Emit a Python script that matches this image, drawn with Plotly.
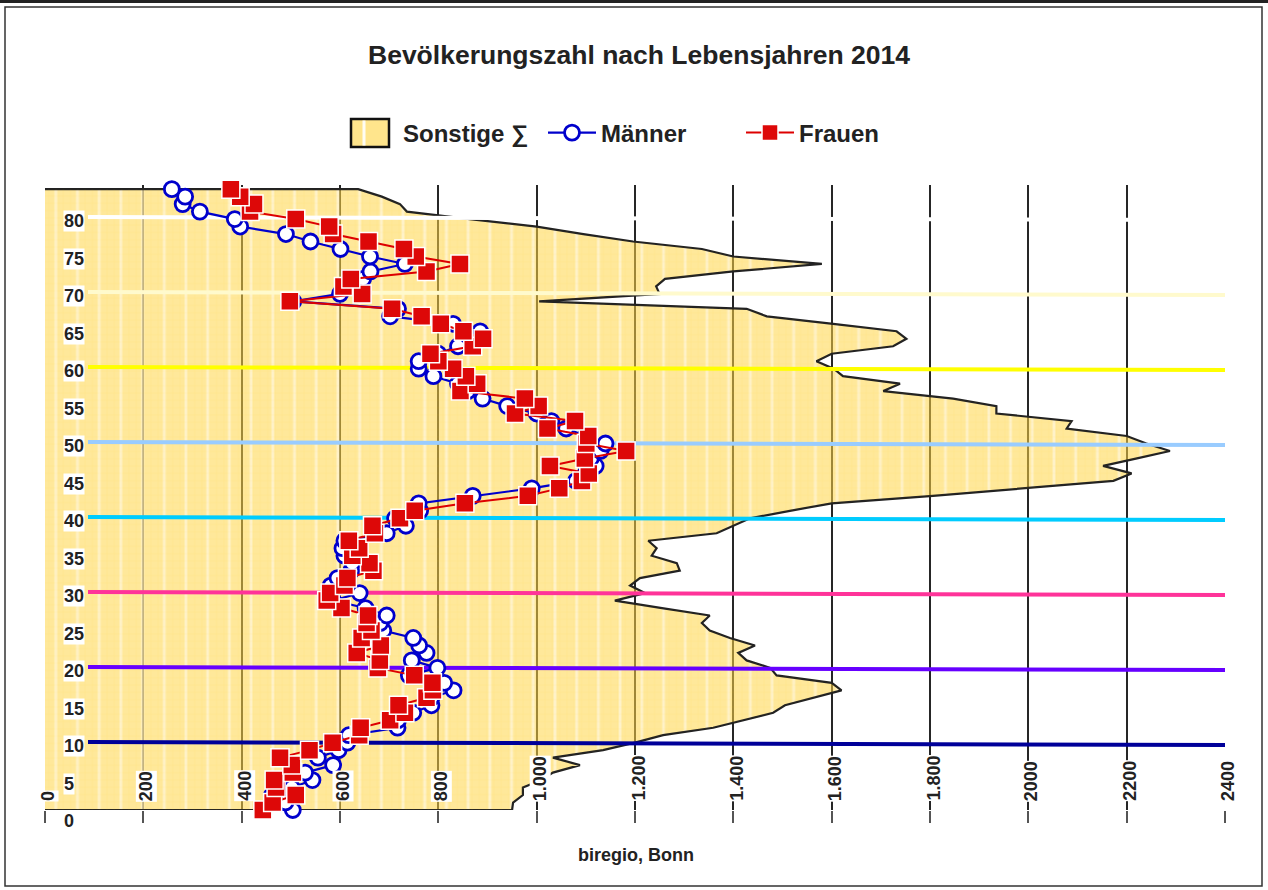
import plotly.graph_objects as go

# ---------------- data ----------------
ages = list(range(84))

maenner = [504, 489, 462, 502, 544, 529, 586, 555, 597, 615,
           618, 717, 718, 749, 786, 786, 831, 812, 740, 798,
           746, 776, 761, 749, 688, 682, 695, 652, 586, 640,
           581, 595, 623, 625, 609, 605, 609, 695, 734, 712,
           763, 760, 870, 990, 1080, 1100, 1120, 1110, 1130, 1140,
           1100, 1060, 1030, 1000, 940, 890, 860, 840, 790, 760,
           760, 800, 840, 880, 885, 830, 702, 718, 505, 600,
           610, 647, 662, 732, 661, 601, 540, 490, 397, 386,
           315, 280, 285, 258]

frauen = [443, 463, 510, 470, 466, 504, 502, 478, 538, 585,
          639, 642, 702, 732, 719, 776, 789, 788, 751, 677,
          681, 634, 683, 644, 664, 654, 657, 603, 573, 580,
          609, 615, 668, 660, 625, 639, 618, 671, 666, 722,
          752, 854, 982, 1046, 1092, 1106, 1027, 1098, 1182, 1101,
          1105, 1022, 1078, 956, 1004, 976, 845, 879, 856, 830,
          800, 784, 870, 891, 851, 805, 766, 706, 498, 645,
          607, 622, 776, 844, 754, 730, 658, 586, 578, 510,
          417, 425, 397, 378]

sonstige = [950, 952, 972, 972, 1010, 1033, 1088, 1033, 1135, 1200,
            1257, 1359, 1420, 1481, 1505, 1562, 1620, 1600, 1488, 1475,
            1427, 1410, 1444, 1393, 1352, 1336, 1352, 1255, 1159, 1220,
            1190, 1210, 1291, 1285, 1234, 1244, 1227, 1366, 1400, 1434,
            1515, 1600, 1806, 1997, 2173, 2210, 2152, 2221, 2288, 2240,
            2200, 2078, 2088, 1935, 1935, 1847, 1705, 1739, 1623, 1604,
            1569, 1600, 1725, 1752, 1732, 1603, 1468, 1427, 1005, 1250,
            1243, 1261, 1400, 1580, 1400, 1336, 1196, 1095, 1000, 864,
            736, 722, 685, 637]

x_tick_vals = [0, 200, 400, 600, 800, 1000, 1200, 1400, 1600, 1800, 2000, 2200, 2400]
x_tick_text = ["0", "200", "400", "600", "800", "1.000", "1.200", "1.400",
               "1.600", "1.800", "2000", "2200", "2400"]
y_label_vals = [0, 5, 10, 15, 20, 25, 30, 35, 40, 45, 50, 55, 60, 65, 70, 75, 80]
band_levels = [10, 20, 30, 40, 50, 60, 70, 80]
band_colors = ["#000099", "#6600ff", "#ff3399", "#00ccff",
               "#99ccff", "#ffff00", "#fffacd", "#ffffff"]

# ---------------- geometry ----------------
W, H = 1268, 890
ML, MR, MT, MB = 45, 43, 185, 80
PLOT_W = W - ML - MR
PLOT_H = H - MT - MB
PX_PER_AGE = 7.48
Y_TOP = PLOT_H / PX_PER_AGE
X_MAX = 2400
PX_PER_X = PLOT_W / X_MAX
LABEL_ZERO_PX = 817.0     # pixel row of label value 0
LABEL_PX_PER_UNIT = 7.5


def label_px(v):
    return LABEL_ZERO_PX - LABEL_PX_PER_UNIT * v


def label_to_age(v):
    return (MT + PLOT_H - label_px(v)) / PX_PER_AGE


def px_x(p):
    return (p - ML) / PLOT_W


def px_y(p):
    return (MT + PLOT_H - p) / PLOT_H


FONT = "Liberation Sans, Arial, sans-serif"
TXT = "#222222"
AREA_BG = "rgba(255,212,70,0.55)"

fig = go.Figure()

# total area
fig.add_trace(go.Scatter(
    x=[0] + sonstige + [0],
    y=[ages[0]] + ages + [ages[-1]],
    mode="lines",
    fill="toself",
    fillcolor=AREA_BG,
    fillpattern=dict(shape="|", fgcolor="rgba(255,255,255,0.95)",
                     bgcolor=AREA_BG, size=21.7, solidity=0.13),
    line=dict(color="#222222", width=2.2),
    name="Sonstige \u2211",
    showlegend=False,
    hoverinfo="skip",
))
# legend entry for the area (swatch drawn as a layout shape)
fig.add_trace(go.Scatter(
    x=[None], y=[None], mode="markers", name="Sonstige \u2211",
    marker=dict(symbol="square", size=1, color="rgba(0,0,0,0)",
                line=dict(width=0)),
))
# faint fine grid texture inside the area
fig.add_trace(go.Scatter(
    x=[0] + sonstige + [0],
    y=[ages[0]] + ages + [ages[-1]],
    mode="none",
    fill="toself",
    fillcolor="rgba(0,0,0,0)",
    fillpattern=dict(shape="+", fgcolor="rgba(255,190,0,0.25)",
                     bgcolor="rgba(0,0,0,0)", size=7.3, solidity=0.12),
    showlegend=False,
    hoverinfo="skip",
))

# coloured age bands
x_band_start = (88 - ML) / PX_PER_X
for lvl, col in zip(band_levels, band_colors):
    ya = label_to_age(lvl)
    fig.add_trace(go.Scatter(
        x=[x_band_start, X_MAX], y=[ya, ya - 3.0 / PX_PER_AGE],
        mode="lines", line=dict(color=col, width=4),
        showlegend=False, hoverinfo="skip",
    ))

fig.add_trace(go.Scatter(
    x=maenner, y=ages, mode="lines+markers", name="M\u00e4nner",
    line=dict(color="#0000cc", width=2.2),
    marker=dict(symbol="circle", size=15, color="white",
                line=dict(color="#0000cc", width=2.8)),
    cliponaxis=False,
))
fig.add_trace(go.Scatter(
    x=frauen, y=ages, mode="lines+markers", name="Frauen",
    line=dict(color="#dd0000", width=2),
    marker=dict(symbol="square", size=18, color="#dd0808",
                line=dict(color="white", width=1.5)),
    cliponaxis=False,
))

annotations = []
for v in y_label_vals:
    annotations.append(dict(
        x=px_x(63), xref="paper", xanchor="left",
        y=px_y(label_px(v) + 4), yref="paper", yanchor="middle",
        text=str(v), showarrow=False, bgcolor="white", borderpad=0,
        font=dict(family=FONT, size=18, color=TXT, weight="bold"),
    ))
for v, t in zip(x_tick_vals, x_tick_text):
    annotations.append(dict(
        x=v, xref="x", xanchor="center", xshift=3,
        y=0, yref="paper", yanchor="bottom", yshift=8,
        text=t, textangle=-90, showarrow=False, bgcolor="white", borderpad=0,
        font=dict(family=FONT, size=18, color=TXT, weight="bold"),
    ))
annotations.append(dict(
    x=px_x(636), xref="paper", y=px_y(855), yref="paper", yanchor="middle",
    text="biregio, Bonn", showarrow=False,
    font=dict(family=FONT, size=18, color=TXT, weight="bold"),
))

shapes = [
    dict(type="rect", xref="paper", yref="paper",
         x0=px_x(5), x1=px_x(1262), y0=px_y(886), y1=px_y(7),
         line=dict(color="#333333", width=1.5), layer="below"),
    dict(type="line", xref="paper", yref="paper",
         x0=px_x(0), x1=px_x(W), y0=px_y(1.5), y1=px_y(1.5),
         line=dict(color="#222222", width=3), layer="below"),
    # legend swatch of the area series
    dict(type="rect", xref="paper", yref="paper",
         x0=px_x(351), x1=px_x(389), y0=px_y(147), y1=px_y(119),
         fillcolor="#ffe58c", line=dict(color="#111111", width=2.5),
         layer="above"),
    dict(type="line", xref="paper", yref="paper",
         x0=px_x(364), x1=px_x(364), y0=px_y(145.5), y1=px_y(120.5),
         line=dict(color="rgba(255,255,255,0.9)", width=3), layer="above"),
]

fig.update_layout(
    width=W, height=H,
    margin=dict(l=ML, r=MR, t=MT, b=MB),
    paper_bgcolor="white", plot_bgcolor="white",
    title=dict(text="Bev\u00f6lkerungszahl nach Lebensjahren 2014",
               x=639 / W, xanchor="center", y=1 - 55 / H, yanchor="middle",
               font=dict(family=FONT, size=26.5, color=TXT, weight="bold")),
    showlegend=True,
    legend=dict(orientation="h", x=px_x(345), xanchor="left",
                y=px_y(133), yanchor="middle",
                font=dict(family=FONT, size=24, color=TXT, weight="bold"),
                bgcolor="rgba(0,0,0,0)", itemwidth=48,
                entrywidth=135, entrywidthmode="pixels",
                traceorder="normal"),
    xaxis=dict(range=[0, X_MAX], tickvals=x_tick_vals, showticklabels=False,
               ticks="outside", ticklen=12, tickwidth=1.5, tickcolor="#555555",
               showgrid=True, gridcolor="#262626", gridwidth=1.5,
               zeroline=False, showline=False, fixedrange=True),
    yaxis=dict(range=[0, Y_TOP], showgrid=False, showticklabels=False,
               zeroline=False, showline=False, ticks="", fixedrange=True),
    annotations=annotations,
    shapes=shapes,
)

fig.write_html("out.html",
               config={"displayModeBar": False},
               post_script="document.body.style.margin='0px';document.body.style.padding='0px';")
